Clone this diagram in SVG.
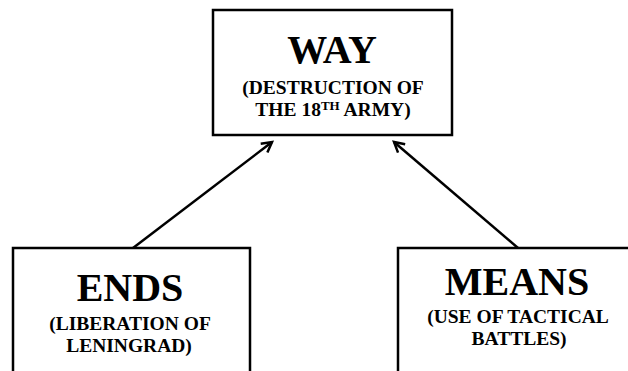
<svg xmlns="http://www.w3.org/2000/svg" width="628" height="371" viewBox="0 0 628 371">
<style>
.box{fill:#fff;stroke:#000;stroke-width:2.5}
.t{font-family:"Liberation Serif",serif;font-weight:bold;fill:#000;text-anchor:middle}
.big{font-size:40px}
.sm{font-size:19.5px}
.con{stroke:#000;stroke-width:2.5;fill:none}
</style>
<defs>
<marker id="ah" markerWidth="14" markerHeight="14" refX="11" refY="7" orient="auto" markerUnits="userSpaceOnUse">
<path d="M1,1.5 L11,7 L1,12.5" fill="none" stroke="#000" stroke-width="2.5"/>
</marker>
</defs>
<rect width="628" height="371" fill="#fff"/>
<g id="way">
<rect class="box" x="213" y="10" width="239" height="125"/>
<text class="t big" x="332" y="63">WAY</text>
<text class="t sm" x="333" y="94">(DESTRUCTION OF</text>
<text class="t sm" x="333" y="116">THE 18<tspan font-size="13" dy="-6">TH</tspan><tspan dy="6"> ARMY)</tspan></text>
</g>
<g id="ends">
<rect class="box" x="13" y="248" width="237" height="140"/>
<text class="t big" x="130" y="301">ENDS</text>
<text class="t sm" x="130" y="330">(LIBERATION OF</text>
<text class="t sm" x="129" y="352">LENINGRAD)</text>
</g>
<g id="means">
<rect class="box" x="398" y="248" width="240" height="140"/>
<text class="t big" x="517" y="295">MEANS</text>
<text class="t sm" x="518" y="323">(USE OF TACTICAL</text>
<text class="t sm" x="519" y="345">BATTLES)</text>
</g>
<g id="connectors">
<line class="con" x1="133" y1="248" x2="272" y2="142" marker-end="url(#ah)"/>
<line class="con" x1="518" y1="248" x2="394" y2="142" marker-end="url(#ah)"/>
</g>
</svg>
